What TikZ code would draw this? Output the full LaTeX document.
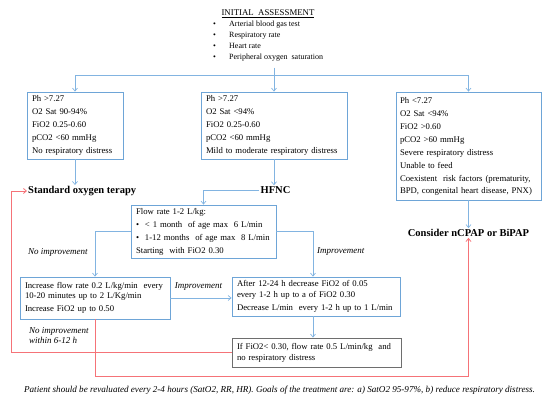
\documentclass[tikz,border=0pt]{standalone}
\usepackage{fontspec}
\setmainfont{Liberation Serif}
\usetikzlibrary{arrows.meta,calc}
\definecolor{lblue}{RGB}{110,165,215}
\definecolor{ablue}{RGB}{130,180,225}
\definecolor{lred}{RGB}{245,115,120}
\definecolor{dgray}{RGB}{110,110,110}
\newcommand\bxl[1]{\mbox{#1}}
\begin{document}
\begin{tikzpicture}[x=1pt,y=-1pt,
  box/.style={draw=lblue, line width=0.8pt, align=left, inner xsep=5pt, inner ysep=2pt, font=\fontsize{8.7}{13}\selectfont},
  arr/.style={draw=ablue, line width=0.7pt, -{Straight Barb[length=3pt,width=5pt]}},
  ln/.style={draw=ablue, line width=0.7pt},
  rarr/.style={draw=lred, line width=0.8pt, -{Straight Barb[length=3pt,width=5pt]}},
  head/.style={font=\fontsize{10.5}{12}\selectfont\bfseries, inner sep=1pt},
  lab/.style={font=\fontsize{9}{10.5}\selectfont\itshape, inner sep=1pt, align=left}]
\useasboundingbox (0,0) rectangle (550,406);

% initial assessment
\node[font=\fontsize{8.8}{11}\selectfont, inner sep=0pt] (title) at (268,14) {\underline{INITIAL\ \ ASSESSMENT}};
\node[font=\fontsize{8}{11}\selectfont, align=left, anchor=north west, inner sep=0pt] (list) at (213,21)
  {\makebox[16pt][l]{•}Arterial blood gas test\\
   \makebox[16pt][l]{•}Respiratory rate\\
   \makebox[16pt][l]{•}Heart rate\\
   \makebox[16pt][l]{•}Peripheral oxygen\ \ saturation};

% first level boxes
\node[box, text width=86pt, minimum height=67pt] (b1) at (75,125.5)
  {Ph >7.27\\O2 Sat 90-94\%\\FiO2 0.25-0.60\\pCO2 <60 mmHg\\\bxl{No respiratory distress}};
\node[box, text width=136pt, minimum height=67pt] (b2) at (274,125.5)
  {Ph >7.27\\O2 Sat <94\%\\FiO2 0.25-0.60\\pCO2 <60 mmHg\\\bxl{Mild to moderate respiratory distress}};
\node[box, inner xsep=4pt, text width=137pt, minimum height=108pt] (b3) at (468.5,146)
  {Ph <7.27\\O2 Sat <94\%\\FiO2 >0.60\\pCO2 >60 mmHg\\Severe respiratory distress\\Unable to feed\\\bxl{Coexistent\ \ risk factors (prematurity,}\\[-1pt]\bxl{BPD, congenital heart disease, PNX)}};

% headings
\node[head, anchor=west] (sot) at (27,191) {Standard oxygen terapy};
\node[head] (hfnc) at (275.5,190) {HFNC};
\node[head] (cpap) at (468.5,233) {Consider nCPAP or BiPAP};

% HFNC boxes
\node[box, text width=135pt, minimum height=53pt] (flow) at (203.5,231.5)
  {Flow rate 1-2 L/kg:\\
   \bxl{\makebox[9pt][l]{•}< 1 month\ \ of age max\ \ 6 L/min}\\
   \bxl{\makebox[9pt][l]{•}1-12 months\ \ of age max\ \ 8 L/min}\\
   Starting\ \ with FiO2 0.30};
\node[box, text width=140pt, minimum height=42pt] (bA) at (95,298)
  {\bxl{Increase flow rate 0.2 L/kg/min\ \ every}\\[-3pt]\bxl{10-20 minutes up to 2 L/Kg/min}\\Increase FiO2 up to 0.50};
\node[box, text width=158pt, minimum height=39pt] (bB) at (316,296.5)
  {\bxl{After 12-24 h decrease FiO2 of 0.05}\\[-2pt]\bxl{every 1-2 h up to a of FiO2 0.30}\\\bxl{Decrease L/min\ \ every 1-2 h up to 1 L/min}};
\node[box, draw=dgray, text width=159pt, minimum height=29pt] (bC) at (316.5,352.5)
  {\bxl{If FiO2< 0.30, flow rate 0.5 L/min/kg\ \ and}\\[-2pt]\bxl{no respiratory distress}};

% labels
\node[lab, anchor=west] (noimp1) at (27,252) {No improvement};
\node[lab, anchor=west] (imp1) at (316,252) {Improvement};
\node[lab] (imp2) at (198.5,286.5) {Improvement};
\node[lab, anchor=north west] (noimp2) at (28,326) {No improvement\\within 6-12 h};

\node[font=\fontsize{9.1}{11}\selectfont\itshape, inner sep=0pt] (foot) at (279.5,390)
  {Patient should be revaluated every 2-4 hours (SatO2, RR, HR). Goals of the treatment are: a) SatO2 95-97\%, b) reduce respiratory distress.};

% connectors
\coordinate (split) at (274,75);
\draw[ln] ([yshift=-6pt]list.south -| split) -- (split);
\draw[arr] (split) -| (b1.north);
\draw[arr] (split) -- (b2.north);
\draw[arr] (split) -| (b3.north);

\draw[arr] (b1.south) -- (b1.south |- sot.north);
\draw[arr] (b2.south) -- (b2.south |- hfnc.north);
\draw[arr] (b3.south) -- (cpap.north);
\draw[arr] (hfnc.west) -| (flow.north);
\draw[arr] (flow.west) -| (bA.north);
\draw[arr] (flow.east) -| ([xshift=-3pt]bB.north);
\draw[arr] (bA.east) -- (bA.east -| bB.west);
\draw[arr] ([xshift=-3pt]bB.south) -- ([xshift=-3pt]bB.south |- bC.north);

\coordinate (rl) at (11,191);
\coordinate (rb) at (468.5,376);
\draw[rarr] (bC.west) -| (rl) -- (sot.west);
\draw[rarr] (bA.south) |- (rb) -- (cpap.south);
\end{tikzpicture}
\end{document}
